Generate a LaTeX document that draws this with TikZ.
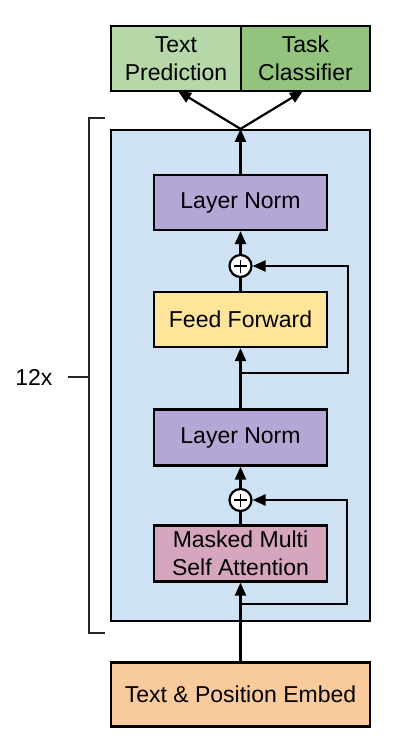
\documentclass[tikz,border=0pt]{standalone}
\usepackage{fontspec}
\setmainfont{Liberation Sans}
\usetikzlibrary{arrows.meta}
\definecolor{predgreen}{RGB}{182, 215, 168}
\definecolor{clsgreen}{RGB}{147, 196, 125}
\definecolor{blockblue}{RGB}{207, 226, 243}
\definecolor{normpurple}{RGB}{180, 167, 214}
\definecolor{ffyellow}{RGB}{255, 229, 153}
\definecolor{attnpink}{RGB}{213, 166, 189}
\definecolor{embedorange}{RGB}{249, 203, 156}
\tikzset{
    layerbox/.style={draw=black, line width=2.2pt, inner sep=0pt, align=center,
        font=\fontsize{23}{28}\selectfont},
    sumnode/.style={draw=black, line width=2.2pt, circle, fill=white, minimum size=22pt, inner sep=0pt},
    arr/.style={line width=2.2pt, -{Triangle[length=13pt, width=11pt]}},
    wire/.style={line width=2.2pt}
}
\begin{document}
\begin{tikzpicture}[x=1pt, y=-1pt]
            \useasboundingbox (0,0) rectangle (400,752);
            % Output heads
            \node[layerbox, fill=predgreen, minimum width=130pt, minimum height=65pt] (pred) at (176.0, 58.5) {Text\\Prediction};
            \node[layerbox, fill=clsgreen,  minimum width=129pt, minimum height=65pt] (cls)  at (305.5, 58.5) {Task\\Classifier};
            % Decoder block
            \node[layerbox, fill=blockblue, minimum width=259pt, minimum height=491pt] (block) at (240.5, 375.5) {};
            \node[layerbox, fill=normpurple,  minimum width=173pt, minimum height=55pt] (norm1) at (240.5, 202.5) {Layer Norm};
            \node[sumnode]                                                            (sum1)  at (240.5, 266.0) {};
            \node[layerbox, fill=ffyellow,    minimum width=173pt, minimum height=55pt] (ff)    at (240.5, 319.5) {Feed Forward};
            \node[layerbox, fill=normpurple,  minimum width=173pt, minimum height=56pt] (norm2) at (240.5, 437.5) {Layer Norm};
            \node[sumnode]                                                            (sum2)  at (240.5, 500.0) {};
            \node[layerbox, fill=attnpink,    minimum width=173pt, minimum height=56pt] (attn)  at (240.5, 553.5) {Masked Multi\\Self Attention};
            % Input embedding
            \node[layerbox, fill=embedorange, minimum width=259pt, minimum height=64pt] (embed) at (240.5, 694.5) {Text \& Position Embed};
            % Plus signs
            \foreach \s in {sum1, sum2} {
                \draw[line width=1.8pt] ([xshift=-6.5pt]\s.center) -- ([xshift=6.5pt]\s.center);
                \draw[line width=1.8pt] ([yshift=-6.5pt]\s.center) -- ([yshift=6.5pt]\s.center);
            }
            % Main path
            \coordinate (res2) at (240.5, 604.0);
            \coordinate (res1) at (240.5, 373.0);
            \draw[arr]  (embed.north) -- (attn.south);
            \draw[wire] (attn.north)  -- (sum2.south);
            \draw[arr]  (sum2.north)  -- (norm2.south);
            \draw[arr]  (norm2.north) -- (ff.south);
            \draw[wire] (ff.north)    -- (sum1.south);
            \draw[arr]  (sum1.north)  -- (norm1.south);
            \draw[arr]  (norm1.north) -- (block.north);
            % Residual connections
            \draw[arr]  (res2) -- (347, 604) |- (sum2.east);
            \draw[arr]  (res1) -- (348, 373) |- (sum1.east);
            % To the heads
            \draw[arr]  (block.north) -- (178, 91);
            \draw[arr]  (block.north) -- (303, 91);
            % Repeat bracket
            \draw[line width=1.1pt, black!85] (105, 118) -- (89, 118) -- (89, 633) -- (105, 633);
            \coordinate (tick) at (68, 377);
            \draw[line width=1.1pt, black!85] (tick) -- (89, 377);
            \node[font=\fontsize{23}{27}\selectfont, anchor=east] (reps) at (56, 377) {12x};
        \end{tikzpicture}
\end{document}
